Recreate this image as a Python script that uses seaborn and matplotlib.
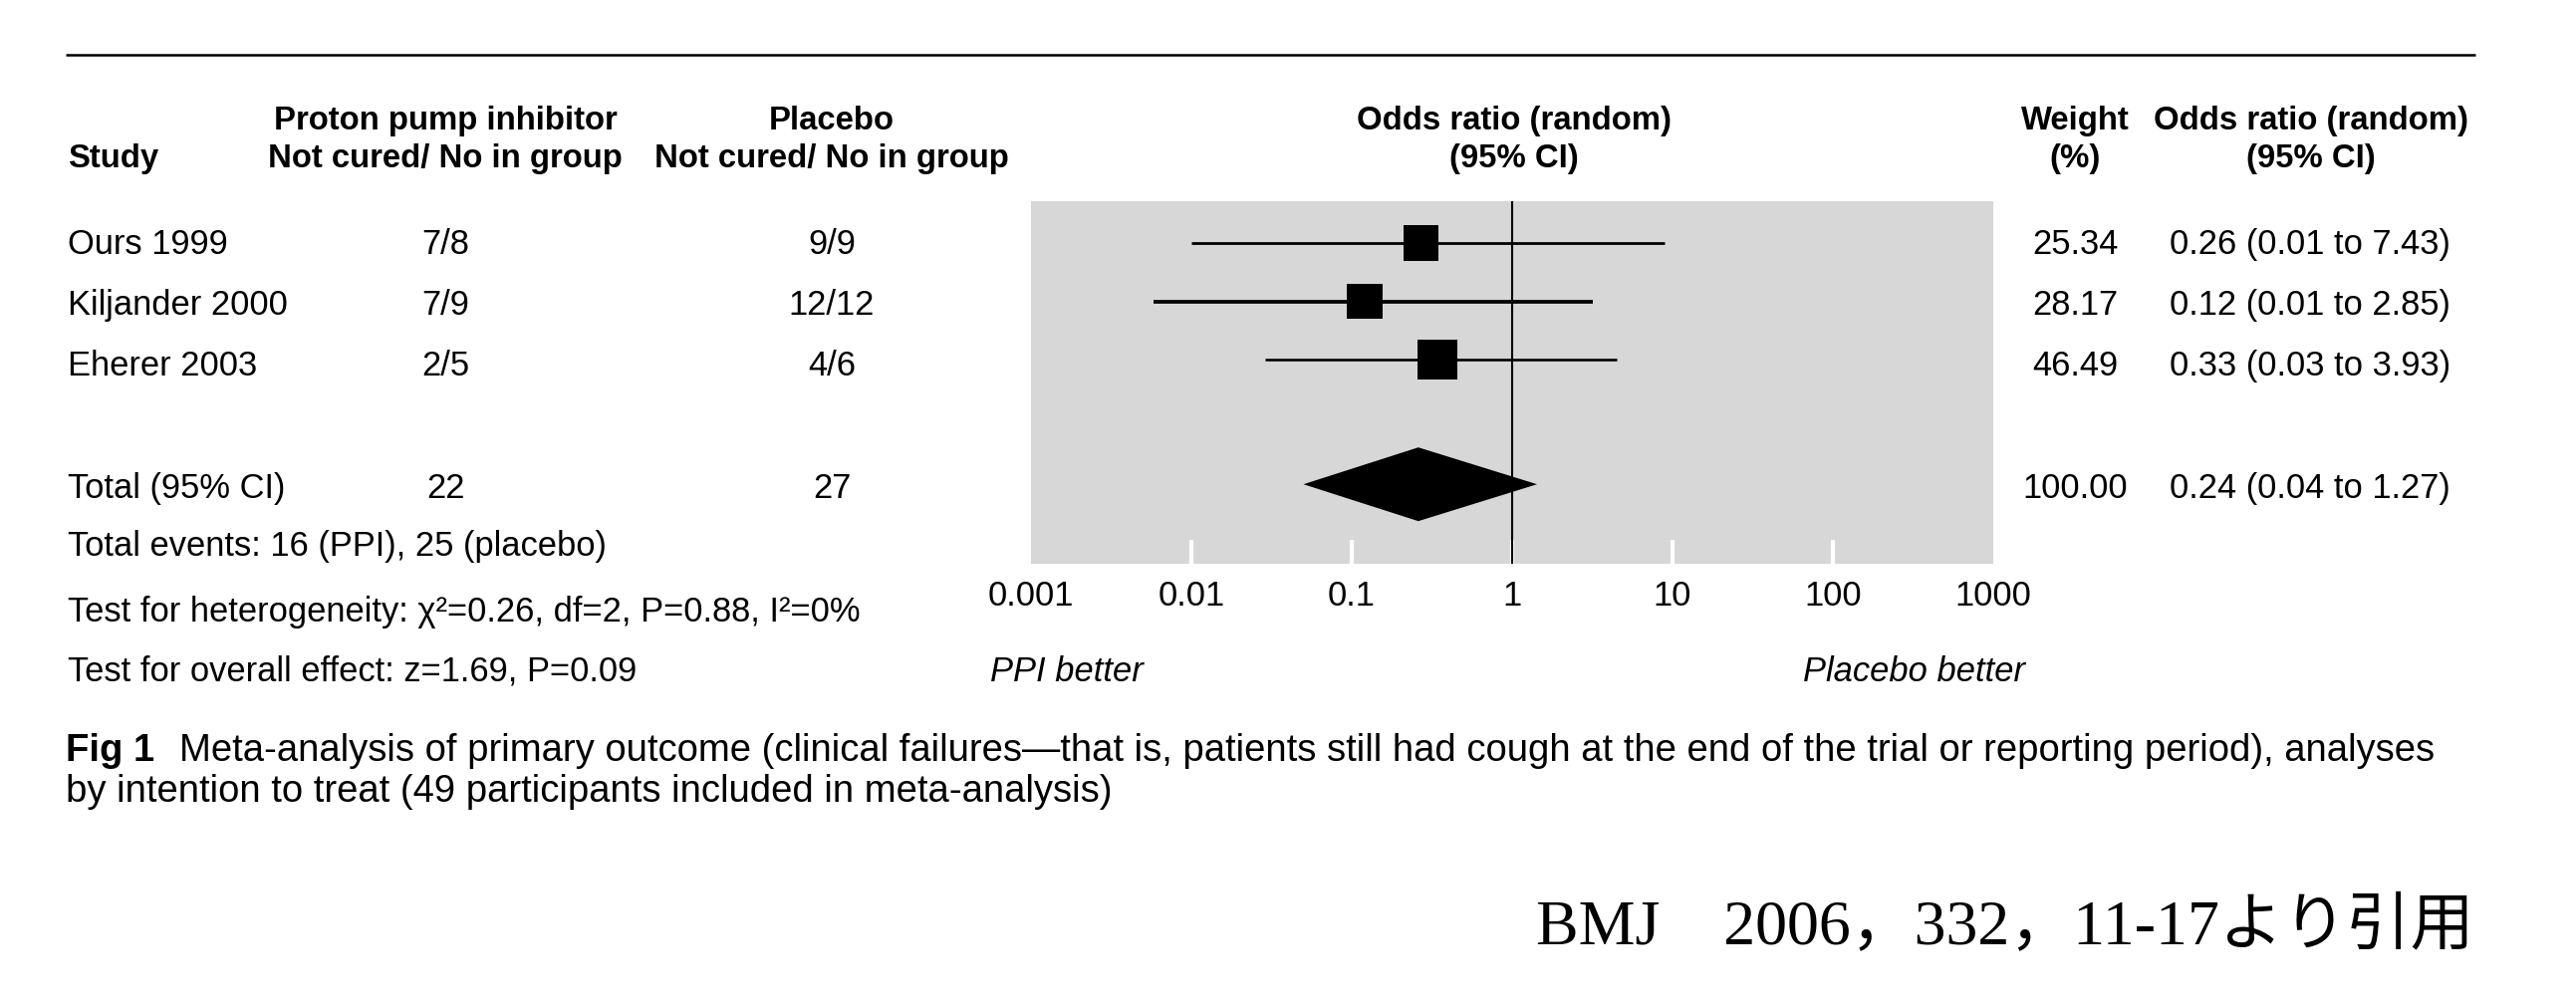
import matplotlib
matplotlib.use('Agg')
import matplotlib.pyplot as plt
from matplotlib import font_manager
from matplotlib.ticker import NullLocator
import pandas as pd
import seaborn as sns

# table columns
studies = ['Ours 1999', 'Kiljander 2000', 'Eherer 2003']
ppi_counts = ['7/8', '7/9', '2/5']
placebo_counts = ['9/9', '12/12', '4/6']
weights = [25.34, 28.17, 46.49]
or_labels = ['0.26 (0.01 to 7.43)', '0.12 (0.01 to 2.85)', '0.33 (0.03 to 3.93)']

# odds ratios and CI ends as drawn on the log axis
odds = [0.27, 0.12, 0.34]
ci_low = [0.010, 0.0058, 0.029]
ci_high = [8.9, 3.2, 4.5]

total_ppi = '22'
total_placebo = '27'
total_weight = '100.00'
total_label = '0.24 (0.04 to 1.27)'
total_odds = 0.26
total_low = 0.05
total_high = 1.43

xticks = [0.001, 0.01, 0.1, 1, 10, 100, 1000]
xtick_labels = ['0.001', '0.01', '0.1', '1', '10', '100', '1000']

footnotes = ['Total events: 16 (PPI), 25 (placebo)',
             'Test for heterogeneity: \u03c7\u00b2=0.26, df=2, P=0.88, I\u00b2=0%',
             'Test for overall effect: z=1.69, P=0.09']
caption_bold = 'Fig 1'
caption_1 = ('Meta-analysis of primary outcome (clinical failures\u2014that is, patients still had '
             'cough at the end of the trial or reporting period), analyses')
caption_2 = 'by intention to treat (49 participants included in meta-analysis)'
source = 'BMJ\u30002006\uff0c332\uff0c11-17\u3088\u308a\u5f15\u7528'

# fonts: condensed sans if we have it, else shrink the regular one
names = {f.name for f in font_manager.fontManager.ttflist}
if 'Liberation Sans Narrow' in names:
    sans, k = 'Liberation Sans Narrow', 1.0
else:
    sans, k = 'Liberation Sans', 0.84
plt.rcParams['font.family'] = [sans, 'DejaVu Sans']

W, H = 2586, 1012
BODY = 29.6 * k
HEAD = 28.2 * k
CAPT = 32.8 * k

# row layout in pixels (marks and text rows are spaced a little differently)
ROW0, STEP = 245, 58.5
TOTAL_ROW = 4.14
TEXT0, TEXT_STEP = 255, 61
TOTAL_TEXT = 500

fig = plt.figure(figsize=(W / 100, H / 100), dpi=100)
fig.patch.set_facecolor('white')

# overlay in pixel units for the table text
tx = fig.add_axes([0, 0, 1, 1])
tx.set_xlim(0, W)
tx.set_ylim(H, 0)
tx.axis('off')

tx.plot([66, 2485], [56, 56], color='black', lw=1.8, solid_capstyle='butt')

# headers
hk = dict(fontsize=HEAD, fontweight='bold', va='baseline')
tx.text(68, 168, 'Study', ha='left', **hk)
tx.text(447, 130, 'Proton pump inhibitor', ha='center', **hk)
tx.text(447, 168, 'Not cured/ No in group', ha='center', **hk)
tx.text(835, 130, 'Placebo', ha='center', **hk)
tx.text(835, 168, 'Not cured/ No in group', ha='center', **hk)
tx.text(1520, 130, 'Odds ratio (random)', ha='center', **hk)
tx.text(1520, 168, '(95% CI)', ha='center', **hk)
tx.text(2083, 130, 'Weight', ha='center', **hk)
tx.text(2083, 168, '(%)', ha='center', **hk)
tx.text(2320, 130, 'Odds ratio (random)', ha='center', **hk)
tx.text(2320, 168, '(95% CI)', ha='center', **hk)

bk = dict(fontsize=BODY, va='baseline')
for i in range(len(studies)):
    yb = TEXT0 + TEXT_STEP * i
    tx.text(68, yb, studies[i], ha='left', **bk)
    tx.text(447, yb, ppi_counts[i], ha='center', **bk)
    tx.text(835, yb, placebo_counts[i], ha='center', **bk)
    tx.text(2083, yb, f'{weights[i]:.2f}', ha='center', **bk)
    tx.text(2319, yb, or_labels[i], ha='center', **bk)

yb = TOTAL_TEXT
tx.text(68, yb, 'Total (95% CI)', ha='left', **bk)
tx.text(447, yb, total_ppi, ha='center', **bk)
tx.text(835, yb, total_placebo, ha='center', **bk)
tx.text(2083, yb, total_weight, ha='center', **bk)
tx.text(2319, yb, total_label, ha='center', **bk)

for yb, line in zip([558, 624, 683], footnotes):
    tx.text(68, yb, line, ha='left', **bk)

tx.text(994, 684, 'PPI better', ha='left', style='italic', **bk)
tx.text(2033, 684, 'Placebo better', ha='right', style='italic', **bk)

# caption
ck = dict(fontsize=CAPT, va='baseline', ha='left')
tx.text(66, 764, caption_bold, fontweight='bold', **ck)
tx.text(180, 764, caption_1, **ck)
tx.text(66, 805, caption_2, **ck)

tx.text(2483, 947, source, ha='right', va='baseline', fontsize=46,
        family=['Liberation Serif', 'Noto Sans CJK JP'])

# forest plot panel
left, right, top, bottom = 1035, 2001, 203, 567
ax = fig.add_axes([left / W, 1 - bottom / H, (right - left) / W, (bottom - top) / H])
ax.set_facecolor('#d7d7d7')

df = pd.DataFrame({'study': studies, 'odds': odds, 'low': ci_low,
                   'high': ci_high, 'weight': weights})
df['row'] = range(len(df))

ax.hlines(df['row'], df['low'], df['high'], colors='black',
          linewidths=[2.0, 2.7, 1.9], zorder=3)
sns.scatterplot(data=df, x='odds', y='row', size='weight', sizes=(640, 830),
                marker='s', color='black', linewidth=0, legend=False, ax=ax, zorder=4)

h = 37 / STEP
ax.fill([total_low, total_odds, total_high, total_odds],
        [TOTAL_ROW, TOTAL_ROW - h, TOTAL_ROW, TOTAL_ROW + h],
        color='black', lw=0, zorder=4)

ax.axvline(1, color='black', lw=1.5, zorder=3)

ax.set_xscale('log')
ax.set_xlim(0.001, 1000)
ax.set_ylim((bottom - ROW0) / STEP, (top - ROW0) / STEP)
ax.set_xticks(xticks)
ax.set_xticklabels(xtick_labels)
ax.xaxis.set_minor_locator(NullLocator())
ax.set_yticks([])
ax.tick_params(axis='x', direction='in', length=17, width=3, color='white',
               pad=11, labelsize=BODY)
# no white notch at the two box edges
ticks = ax.xaxis.get_major_ticks()
ticks[0].tick1line.set_visible(False)
ticks[-1].tick1line.set_visible(False)
ax.set_xlabel('')
ax.set_ylabel('')
for s in ax.spines.values():
    s.set_visible(False)

fig.savefig('out.png', dpi=100)
